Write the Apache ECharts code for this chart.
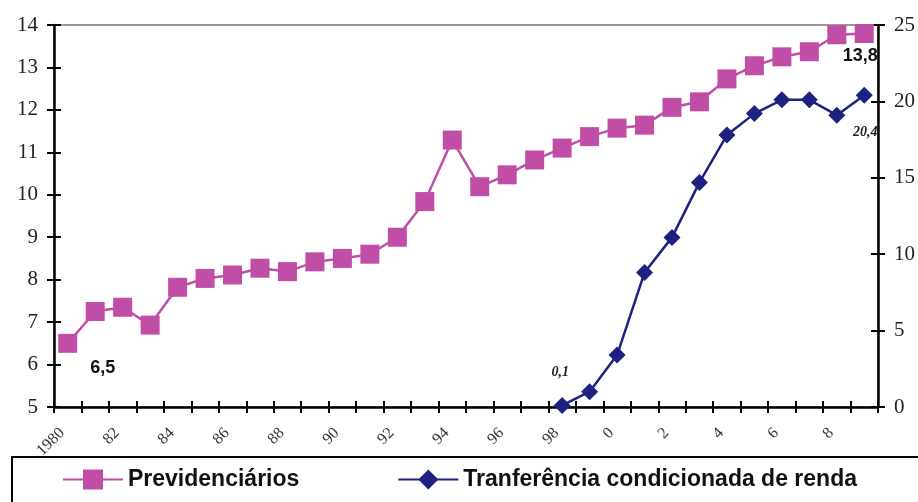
<!DOCTYPE html>
<html>
<head>
<meta charset="utf-8">
<script src="https://cdn.jsdelivr.net/npm/echarts@6/dist/echarts.min.js"></script>
<style>
  html, body { margin: 0; padding: 0; background: #fff; }
  #chart { width: 918px; height: 502px; }
</style>
</head>
<body>
<div id="chart"></div>
<script>
// Years shown on the category axis (every other one is labelled)
const years = ['1980','81','82','83','84','85','86','87','88','89',
               '90','91','92','93','94','95','96','97','98','99',
               '0','1','2','3','4','5','6','7','8','9'];

// Previdenciários (left axis)
const previdenciarios = [6.5, 7.25, 7.35, 6.93, 7.82, 8.03, 8.11, 8.27, 8.19, 8.42,
                         8.5, 8.6, 9.0, 9.84, 11.29, 10.19, 10.47, 10.82, 11.1, 11.37,
                         11.57, 11.64, 12.06, 12.19, 12.73, 13.04, 13.25, 13.37, 13.77, 13.8];

// Tranferência condicionada de renda (right axis)
const transferencia = [null, null, null, null, null, null, null, null, null, null,
                       null, null, null, null, null, null, null, null, 0.1, 1.0,
                       3.4, 8.8, 11.1, 14.7, 17.8, 19.2, 20.1, 20.1, 19.1, 20.4];

const leftTicks = { min: 5, max: 14, interval: 1 };
const rightTicks = { min: 0, max: 25, interval: 5 };

const PINK = '#c04ea6';
const NAVY = '#1f2180';

const commaFmt = p => String(p.value).replace('.', ',');

const boldSansLabel = (dx, dy) => ({
  show: true, position: 'inside', offset: [dx, dy], formatter: commaFmt,
  fontFamily: 'Liberation Sans, Arial, sans-serif', fontWeight: 'bold',
  fontSize: 18, color: '#111'
});
const italicSerifLabel = (dx, dy) => ({
  show: true, position: 'inside', offset: [dx, dy], formatter: commaFmt,
  fontFamily: 'Liberation Serif, Times New Roman, serif', fontWeight: 'bold',
  fontStyle: 'italic', fontSize: 14, color: '#222'
});

const pinkData = previdenciarios.map((v, i) => {
  if (i === 0) return { value: v, label: boldSansLabel(35, 25) };
  if (i === previdenciarios.length - 1) return { value: v, label: boldSansLabel(-4, 23) };
  return v;
});
const navyData = transferencia.map((v, i) => {
  if (i === 18) return { value: v, label: italicSerifLabel(-2, -33) };
  if (i === transferencia.length - 1) return { value: v, label: italicSerifLabel(1, 37) };
  return v;
});

const serif = 'Liberation Serif, Times New Roman, serif';
const axisLineStyle = { show: true, onZero: false, lineStyle: { color: '#000', width: 2.5 } };

function yAxisPair(pos, ticks, withLabels) {
  return {
    type: 'value', position: pos,
    min: ticks.min, max: ticks.max, interval: ticks.interval,
    axisLine: withLabels ? axisLineStyle : { show: false },
    axisTick: { show: true, inside: !withLabels, length: 7, lineStyle: { color: '#000', width: 2 } },
    axisLabel: { show: withLabels, fontFamily: serif, fontSize: 21, color: '#222', margin: 16 },
    splitLine: { show: false }
  };
}

const chart = echarts.init(document.getElementById('chart'), null, { renderer: 'canvas' });
chart.setOption({
  animation: false,
  backgroundColor: '#fff',
  grid: { left: 54, right: 36, top: 25, bottom: 95, show: true, borderColor: '#9a9a9a', borderWidth: 2 },
  legend: {
    left: 12, top: 457, width: 1200,
    padding: [11, 90, 40, 50],
    borderColor: '#000', borderWidth: 2,
    itemWidth: 60, itemHeight: 25, itemGap: 98,
    textStyle: { fontFamily: 'Liberation Sans, Arial, sans-serif', fontWeight: 'bold', fontSize: 23, color: '#111' },
    data: ['Previdenciários', 'Tranferência condicionada de renda']
  },
  xAxis: [
    {
      type: 'category', data: years, boundaryGap: true, position: 'bottom',
      axisLine: { show: true, onZero: false, lineStyle: { color: '#000', width: 2.5 } },
      axisTick: { show: true, interval: 0, length: 6, lineStyle: { color: '#000', width: 2 } },
      axisLabel: { interval: 1, rotate: 45, fontFamily: serif, fontSize: 16, color: '#333',
                   margin: 18, padding: [0, 8, 0, 0] },
      splitLine: { show: false }
    },
    {
      type: 'category', data: years, boundaryGap: true, position: 'bottom',
      axisLine: { show: false },
      axisTick: { show: true, inside: true, interval: 0, length: 6, lineStyle: { color: '#000', width: 2 } },
      axisLabel: { show: false },
      splitLine: { show: false }
    }
  ],
  yAxis: [
    yAxisPair('left', leftTicks, true),
    yAxisPair('right', rightTicks, true),
    yAxisPair('left', leftTicks, false),
    yAxisPair('right', rightTicks, false)
  ],
  series: [
    {
      name: 'Previdenciários', type: 'line', xAxisIndex: 0, yAxisIndex: 0,
      data: pinkData, symbol: 'rect', symbolSize: 19, showAllSymbol: true,
      lineStyle: { color: PINK, width: 2.5 }, itemStyle: { color: PINK }
    },
    {
      name: 'Tranferência condicionada de renda', type: 'line', xAxisIndex: 0, yAxisIndex: 1,
      data: navyData, symbol: 'diamond', symbolSize: 17, showAllSymbol: true, connectNulls: false,
      lineStyle: { color: NAVY, width: 2.5 }, itemStyle: { color: NAVY }
    }
  ]
});
</script>
</body>
</html>
